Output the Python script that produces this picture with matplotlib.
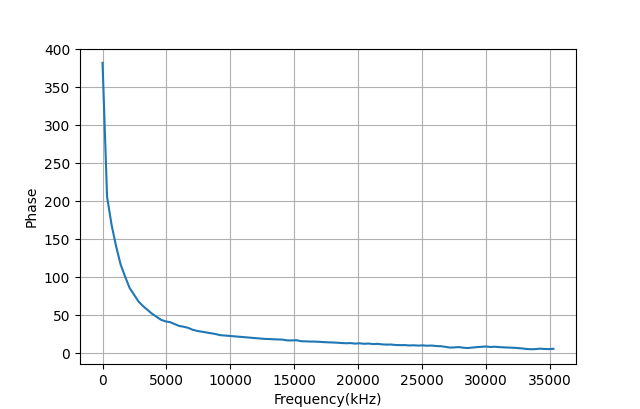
import numpy as np
import matplotlib.pyplot as plt

# frequency sweep, 353 kHz steps
freq = np.arange(101) * 353

phase = [382, 206, 169, 141, 117, 101, 86, 77, 68, 62,
         57, 52, 48, 44, 42, 41, 38.5, 36, 35, 33.5,
         31, 29.5, 28.5, 27.5, 26.5, 25.5, 24, 23.5, 23, 22.5,
         22, 21.5, 21, 20.5, 20, 19.5, 19, 18.8, 18.5, 18.3,
         18, 17, 17, 17.3, 16, 15.8, 15.5, 15.5, 15.2, 14.8,
         14.5, 14.3, 14, 13.6, 13.3, 13.5, 12.8, 13.2, 12.6, 12.9,
         12.2, 12.5, 11.8, 11.5, 11.6, 11.0, 10.8, 10.9, 10.4, 10.6,
         10.2, 10.5, 10.0, 10.3, 9.6, 9.4, 8.6, 7.6, 7.8, 8.3,
         7.4, 7.0, 7.6, 8.2, 8.6, 9.0, 8.4, 8.7, 8.2, 7.9,
         7.6, 7.4, 7.0, 6.5, 5.8, 5.4, 5.6, 6.2, 5.8, 5.6, 6.0]

plt.figure(figsize=(6.4, 4.09))
plt.plot(freq, phase)
plt.xlabel("Frequency(kHz)")
plt.ylabel("Phase")
plt.ylim(-14, 400)
plt.grid(True)
plt.savefig("out.png", dpi=100)
